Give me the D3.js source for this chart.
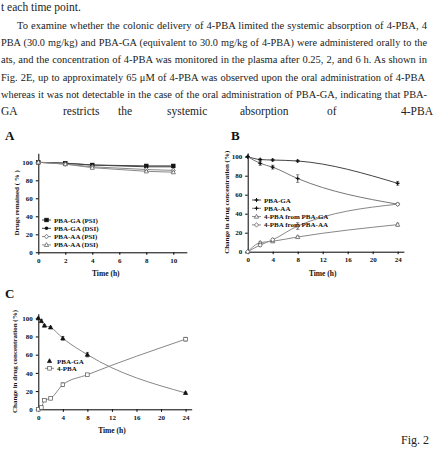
<!DOCTYPE html>
<html>
<head>
<meta charset="utf-8">
<script src="https://cdn.jsdelivr.net/npm/d3@7"></script>
<style>
  body { margin: 0; background: #fff; }
  svg { display: block; }
  .ax path, .ax line { stroke: #000; stroke-width: 1; }
  .ax text { font-family: "Liberation Serif", serif; font-weight: bold; font-size: 7px; fill: #111; }
  .lbl { font-family: "Liberation Serif", serif; font-weight: bold; fill: #111; }
  .para { font-family: "Liberation Serif", "DejaVu Serif", serif; font-size: 11.5px; fill: #222; }
</style>
</head>
<body>
<div id="fig"></div>
<script>
// paragraph text above the figure
const paraLines = [
    "t each time point.",
    "To examine whether the colonic delivery of 4-PBA limited the systemic absorption of 4-PBA, 4",
    "PBA (30.0 mg/kg) and PBA-GA (equivalent to 30.0 mg/kg of 4-PBA) were administered orally to the",
    "ats, and the concentration of 4-PBA was monitored in the plasma after 0.25, 2, and 6 h. As shown in",
    "Fig. 2E, up to approximately 65 \u03bcM of 4-PBA was observed upon the oral administration of 4-PBA",
    "whereas it was not detectable in the case of the oral administration of PBA-GA, indicating that PBA-"
];
const lastLineWords = ["GA", "restricts", "the", "systemic", "absorption", "of", "4-PBA"];

// Panel A: stability (drugs remained %)
const timeA = [0, 2, 4, 8, 10];
const gaPSI = [100, 99, 97, 96, 96];
const gaDSI = [100, 99, 97, 95, 95];
const aaPSI = [100, 98, 95, 92, 91];
const aaDSI = [100, 98, 94, 90, 89];
const errA = [1, 1.5, 1, 1, 1];

// Panel B: change in drug concentration
const timeB = [0, 2, 4, 8, 24];
const bGA = [100, 97, 96.5, 95.5, 72];
const bAA = [100, 93, 89, 77, 50];
const bPbaGA = [0, 9.5, 11, 15.5, 28.5];
const bPbaAA = [0, 7, 12.5, 27, 50];
const errBGA = [0.5, 1, 1, 1, 2];
const errBAA = [0.5, 2, 2, 4, 1];
const errBPbaGA = [0.5, 1, 1, 1, 1.5];
const errBPbaAA = [0.5, 1.5, 1.5, 3.5, 1];

// Panel C
const timeC = [0, 0.5, 1, 2, 4, 8, 24];
const cGA = [100, 97, 92, 90, 78, 60, 18];
const cPBA = [0, 2, 10, 12, 27, 38, 77];
const errCGA = [1, 1.5, 1, 1, 2, 2.5, 1];
const errCPBA = [0.5, 1, 1, 1, 2, 1, 2];

const ticksA = [0, 2, 4, 6, 8, 10];
const ticksBC = [0, 4, 8, 12, 16, 20, 24];
const ticksY = [0, 20, 40, 60, 80, 100];

let svg = d3.select("#fig")
    .append("svg")
    .attr("width", 433)
    .attr("height", 457);

// --- text paragraph (shrink to fit, then justify with word spacing) ---
const lineY = [7, 24.5, 42, 59, 76.5, 93.5];
const lineX = [1, 17, 1, 1, 1, 1];
const lineW = [76, 410, 426, 426, 424, 426];
paraLines.forEach(function (t, i) {
    let txt = svg.append("text")
        .attr("class", "para")
        .attr("x", lineX[i])
        .attr("y", lineY[i] + 4)
        .text(t);
    if (i > 0) {
        let w = txt.node().getComputedTextLength();
        if (w > lineW[i]) {
            txt.style("font-size", (11.5 * lineW[i] / w * 0.985) + "px");
            w = txt.node().getComputedTextLength();
        }
        const gaps = t.split(" ").length - 1;
        txt.style("word-spacing", Math.max(0, (lineW[i] - w) / gaps) + "px");
    }
});
const wordX = [1, 63, 118, 167, 240, 327, 401];
lastLineWords.forEach(function (w, i) {
    svg.append("text")
        .attr("class", "para")
        .attr("x", wordX[i])
        .attr("y", 114.5)
        .text(w);
});

svg.append("text")
    .attr("class", "para")
    .attr("x", 401)
    .attr("y", 444)
    .style("font-size", "12px")
    .text("Fig.  2");

// --- helpers ---
function marker(g, type, x, y, col) {
    const s = 1.8;
    if (type === "sqF" || type === "sqO") {
        g.append("rect").attr("x", x - s).attr("y", y - s).attr("width", 2 * s).attr("height", 2 * s)
            .attr("fill", type === "sqF" ? col : "#fff").attr("stroke", col).attr("stroke-width", 0.7);
    } else if (type === "cirF") {
        g.append("circle").attr("cx", x).attr("cy", y).attr("r", s).attr("fill", col);
    } else if (type === "diaO") {
        g.append("path").attr("d", `M${x},${y - 2.3}L${x + 2},${y}L${x},${y + 2.3}L${x - 2},${y}Z`)
            .attr("fill", "#fff").attr("stroke", col).attr("stroke-width", 0.7);
    } else if (type === "triO" || type === "triF") {
        g.append("path").attr("d", `M${x},${y - 2.3}L${x + 2.1},${y + 1.6}L${x - 2.1},${y + 1.6}Z`)
            .attr("fill", type === "triF" ? col : "#fff").attr("stroke", col).attr("stroke-width", 0.7);
    } else if (type === "star") {
        g.append("path").attr("d", `M${x - 2},${y}L${x + 2},${y}M${x},${y - 2}L${x},${y + 2}`)
            .attr("stroke", col).attr("stroke-width", 1);
        g.append("circle").attr("cx", x).attr("cy", y).attr("r", 1).attr("fill", col);
    }
}

function drawPanel(cfg) {
    let g = svg.append("g");
    let x = d3.scaleLinear().domain(cfg.xDom).range(cfg.xRange);
    let y = d3.scaleLinear().domain(cfg.yDom).range(cfg.yRange);

    g.append("g").attr("class", "ax")
        .attr("transform", `translate(0,${cfg.yRange[0]})`)
        .call(d3.axisBottom(x).tickValues(cfg.xTicks).tickSize(2.5).tickPadding(3).tickSizeOuter(0));
    g.append("g").attr("class", "ax")
        .attr("transform", `translate(${cfg.xRange[0]},0)`)
        .call(d3.axisLeft(y).tickValues(ticksY).tickSize(2.5).tickPadding(3).tickSizeOuter(0));

    cfg.series.forEach(function (s) {
        let pts = s.t.map(function (t, i) { return [x(t), y(s.v[i])]; });
        g.append("path")
            .attr("d", d3.line().curve(cfg.curve)(pts))
            .attr("fill", "none")
            .attr("stroke", s.lineCol)
            .attr("stroke-width", 1);
        s.t.forEach(function (t, i) {
            const e = s.err[i];
            const cx = x(t);
            g.append("path")
                .attr("d", `M${cx},${y(s.v[i] + e)}V${y(s.v[i] - e)}M${cx - 1.6},${y(s.v[i] + e)}H${cx + 1.6}M${cx - 1.6},${y(s.v[i] - e)}H${cx + 1.6}`)
                .attr("stroke", "#333").attr("stroke-width", 0.6);
            marker(g, s.mark, cx, y(s.v[i]), s.markCol);
        });
    });

    // legend
    cfg.series.forEach(function (s, i) {
        const ly = cfg.legY + i * cfg.legStep;
        if (s.legLine !== false) {
            g.append("line").attr("x1", cfg.legX).attr("x2", cfg.legX + 9)
                .attr("y1", ly).attr("y2", ly).attr("stroke", s.lineCol).attr("stroke-width", 1);
        }
        marker(g, s.mark, cfg.legX + 4.5, ly, s.markCol);
        g.append("text").attr("class", "lbl")
            .attr("x", cfg.legX + 12).attr("y", ly + 2.5)
            .style("font-size", "7px")
            .text(s.name);
    });

    // panel letter
    g.append("text").attr("class", "lbl")
        .attr("x", cfg.letterPos[0]).attr("y", cfg.letterPos[1])
        .style("font-size", "13px")
        .text(cfg.letter);

    // axis titles
    g.append("text").attr("class", "lbl")
        .attr("text-anchor", "middle")
        .attr("x", (cfg.xRange[0] + x(cfg.xTicks[cfg.xTicks.length - 1])) / 2)
        .attr("y", cfg.yRange[0] + 24)
        .style("font-size", "7.5px")
        .text("Time (h)");
    g.append("text").attr("class", "lbl")
        .attr("text-anchor", "middle")
        .attr("transform", `translate(${cfg.yTitleX},${(cfg.yRange[0] + cfg.yRange[1]) / 2}) rotate(-90)`)
        .style("font-size", "7px")
        .text(cfg.yTitle);
}

drawPanel({
    letter: "A", letterPos: [5, 140],
    xDom: [0, 11], xRange: [38.3, 186.8],
    yDom: [0, 110], yRange: [252.3, 153.3],
    xTicks: ticksA, curve: d3.curveLinear,
    yTitle: "Drugs remained ( % )", yTitleX: 19,
    legX: 42, legY: 220, legStep: 8.3,
    series: [
        {name: "PBA-GA (PSI)", t: timeA, v: gaPSI, err: errA, mark: "sqF", markCol: "#111", lineCol: "#444"},
        {name: "PBA-GA (DSI)", t: timeA, v: gaDSI, err: errA, mark: "cirF", markCol: "#111", lineCol: "#444"},
        {name: "PBA-AA (PSI)", t: timeA, v: aaPSI, err: errA, mark: "diaO", markCol: "#555", lineCol: "#888"},
        {name: "PBA-AA (DSI)", t: timeA, v: aaDSI, err: errA, mark: "triO", markCol: "#555", lineCol: "#888"}
    ]
});

drawPanel({
    letter: "B", letterPos: [231, 140],
    xDom: [0, 25], xRange: [247.7, 403.9],
    yDom: [0, 104], yRange: [251.7, 152.9],
    xTicks: ticksBC, curve: d3.curveMonotoneX,
    yTitle: "Change in drug concentration (%)", yTitleX: 229,
    legX: 252, legY: 200, legStep: 8.3,
    series: [
        {name: "PBA-GA", t: timeB, v: bGA, err: errBGA, mark: "star", markCol: "#111", lineCol: "#444"},
        {name: "PBA-AA", t: timeB, v: bAA, err: errBAA, mark: "star", markCol: "#111", lineCol: "#777"},
        {name: "4-PBA from PBA-GA", t: timeB, v: bPbaGA, err: errBPbaGA, mark: "triO", markCol: "#555", lineCol: "#888"},
        {name: "4-PBA from PBA-AA", t: timeB, v: bPbaAA, err: errBPbaAA, mark: "diaO", markCol: "#555", lineCol: "#888"}
    ]
});

drawPanel({
    letter: "C", letterPos: [5, 298],
    xDom: [0, 25], xRange: [38.3, 191.7],
    yDom: [0, 105], yRange: [409.3, 313.7],
    xTicks: ticksBC, curve: d3.curveMonotoneX,
    yTitle: "Change in drug concentration (%)", yTitleX: 17,
    legX: 45, legY: 361, legStep: 7.3,
    series: [
        {name: "PBA-GA", t: timeC, v: cGA, err: errCGA, mark: "triF", markCol: "#111", lineCol: "#888", legLine: false},
        {name: "4-PBA", t: timeC, v: cPBA, err: errCPBA, mark: "sqO", markCol: "#555", lineCol: "#888"}
    ]
});
</script>
</body>
</html>
